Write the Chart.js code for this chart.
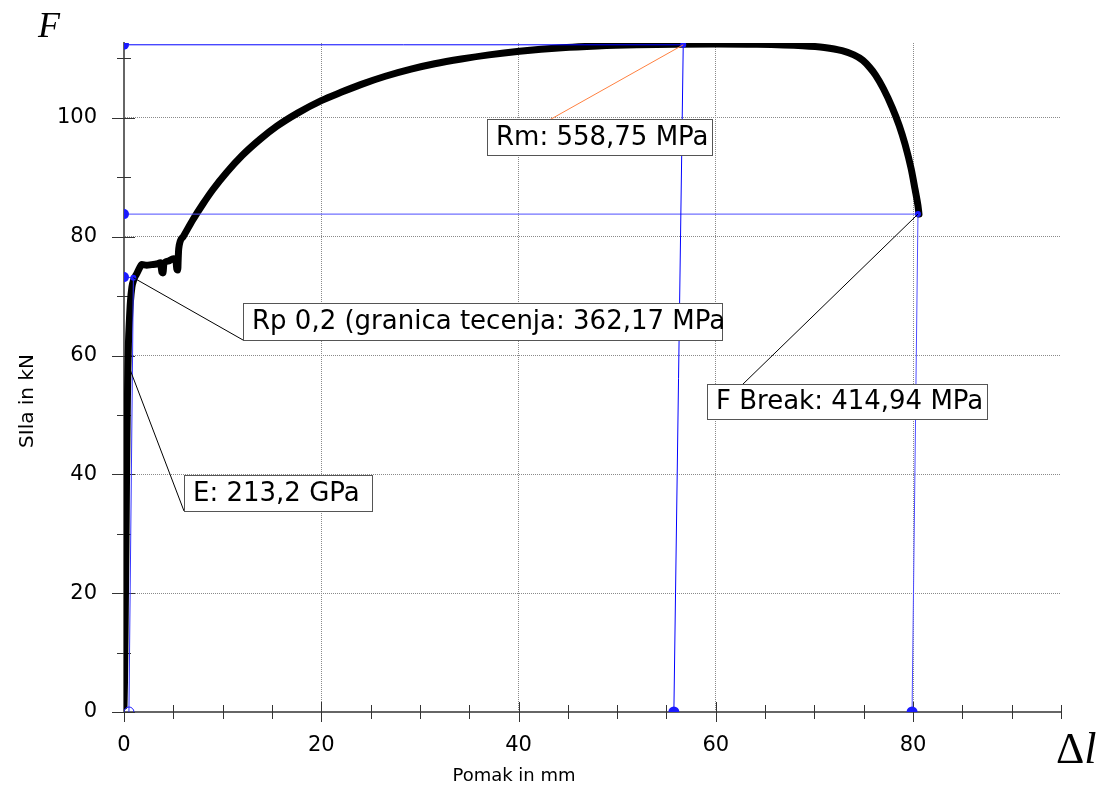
<!DOCTYPE html>
<html>
<head>
<meta charset="utf-8">
<script src="https://cdn.jsdelivr.net/npm/chart.js@4.4.1/dist/chart.umd.min.js"></script>
<style>
  html, body { margin: 0; padding: 0; background: #fff; }
  canvas { display: block; }
</style>
</head>
<body>
<canvas id="chart" width="1099" height="790"></canvas>
<script>
// tensile test curve: elongation (mm) vs force (kN)
const pomak = [0, 0.05, 0.1, 0.15, 0.2, 0.25, 0.3, 0.35, 0.4, 0.45, 0.55, 0.65, 0.8, 1.0, 1.3, 1.6, 1.8,
  2.3, 2.8, 3.3, 3.7, 3.85, 3.95, 4.05, 4.5, 5.0, 5.25, 5.35, 5.45, 5.5, 5.55, 6.0, 7.0, 8.0, 9.0,
  10.4, 12.0, 13.8, 15.5, 17.6, 20.0, 22.0, 24.0, 26.5, 29.1, 31.5, 34.2, 37.0, 40.1, 44.4, 48.0,
  52.0, 56.0, 60.0, 64.0, 68.8, 71.0, 72.8, 74.0, 74.9, 75.6, 76.2, 77.0, 77.9, 78.6, 79.2, 79.8,
  80.2, 80.5, 80.6];
const sila = [1, 5, 12, 20, 28, 38, 46, 53, 58, 62, 66, 69, 71.5, 72.8, 73.8, 74.8, 75.3,
  75.2, 75.3, 75.4, 75.6, 74.0, 73.9, 75.5, 75.9, 76.3, 76.2, 74.6, 74.4, 76.5, 78.0, 80.0, 82.9, 85.5, 87.9,
  90.8, 93.7, 96.4, 98.6, 100.8, 102.9, 104.3, 105.6, 107.0, 108.2, 109.1, 109.9, 110.6, 111.2, 111.8, 112.1,
  112.3, 112.4, 112.45, 112.4, 112.15, 111.85, 111.3, 110.6, 109.7, 108.5, 107.2, 104.9, 101.7, 98.7, 95.5, 91.5,
  88.0, 85.2, 83.8];

// marker lines (y-axis point -> curve point -> x-axis point)
const rmX = [0, 56.7, 55.75];
const rmY = [112.3, 112.3, 0];
const breakX = [0, 80.5, 79.9];
const breakY = [83.8, 83.8, 0];
const rpX = [0, 0.95, 0.5];
const rpY = [73.2, 73.1, 0];

const xTicks = [0, 5, 10, 15, 20, 25, 30, 35, 40, 45, 50, 55, 60, 65, 70, 75, 80, 85, 90, 95];
const yTicks = [0, 10, 20, 30, 40, 50, 60, 70, 80, 90, 100, 110];

// annotation labels: text, anchor in data units, box in px
const labels = [
  { text: 'Rm: 558,75 MPa', ax: 56.7, ay: 112.3, box: [487, 119, 225, 36], line: '#ff8040' },
  { text: 'Rp 0,2 (granica tecenja: 362,17 MPa', ax: 0.95, ay: 73.1, box: [243, 303, 479, 37], line: '#000' },
  { text: 'E: 213,2 GPa', ax: 0.3, ay: 59, box: [184, 475, 188, 36], line: '#000' },
  { text: 'F Break: 414,94 MPa', ax: 80.5, ay: 83.8, box: [707, 384, 280, 35], line: '#000' }
];

const pts = (xs, ys) => xs.map((v, i) => ({ x: v, y: ys[i] }));
const isMajor = v => v % 20 === 0;

const extras = {
  id: 'extras',
  beforeDatasetsDraw(chart) {
    const { ctx, chartArea: a, scales: { x, y } } = chart;
    ctx.save();
    ctx.strokeStyle = '#333';
    ctx.lineWidth = 1;
    x.ticks.forEach(t => {
      const px = Math.round(x.getPixelForValue(t.value)) + 0.5;
      ctx.beginPath();
      ctx.moveTo(px, a.bottom - (isMajor(t.value) ? 10 : 7));
      ctx.lineTo(px, a.bottom + (isMajor(t.value) ? 10 : 7));
      ctx.stroke();
    });
    y.ticks.forEach(t => {
      const py = Math.round(y.getPixelForValue(t.value)) + 0.5;
      ctx.beginPath();
      ctx.moveTo(a.left - (isMajor(t.value) ? 12 : 7), py);
      ctx.lineTo(a.left + (isMajor(t.value) ? 11 : 7), py);
      ctx.stroke();
    });
    ctx.restore();
  },
  afterDatasetsDraw(chart) {
    const { ctx, scales: { x, y } } = chart;
    ctx.save();
    labels.forEach(l => {
      const [bx, by, bw, bh] = l.box;
      ctx.strokeStyle = l.line;
      ctx.lineWidth = 1;
      ctx.beginPath();
      ctx.moveTo(x.getPixelForValue(l.ax), y.getPixelForValue(l.ay));
      ctx.lineTo(bx, by + bh);
      ctx.stroke();
      ctx.fillStyle = '#fff';
      ctx.fillRect(bx, by, bw, bh);
      ctx.strokeStyle = '#555';
      ctx.strokeRect(bx + 0.5, by + 0.5, bw, bh);
      ctx.fillStyle = '#000';
      ctx.font = '26px "DejaVu Sans"';
      ctx.textBaseline = 'middle';
      ctx.textAlign = 'left';
      ctx.fillText(l.text, bx + 9, by + bh / 2 + 1);
    });
    ctx.restore();
  },
  afterDraw(chart) {
    const { ctx } = chart;
    ctx.save();
    ctx.fillStyle = '#000';
    ctx.textAlign = 'center';
    ctx.textBaseline = 'middle';
    ctx.font = '18px "DejaVu Sans"';
    ctx.fillText('Pomak in mm', 514, 776);
    ctx.font = '20px "DejaVu Sans"';
    ctx.translate(28, 401);
    ctx.rotate(-Math.PI / 2);
    ctx.fillText('SIla in kN', 0, 0);
    ctx.restore();

    ctx.save();
    ctx.fillStyle = '#000';
    ctx.textBaseline = 'alphabetic';
    ctx.font = 'italic 36px "Liberation Serif"';
    ctx.fillText('F', 38, 37);
    ctx.font = '44px "Liberation Serif"';
    ctx.fillText('\u0394', 1056, 763);
    const w = ctx.measureText('\u0394').width;
    ctx.font = 'italic 44px "Liberation Serif"';
    ctx.fillText('l', 1056 + w, 763);
    ctx.restore();
  }
};

new Chart(document.getElementById('chart'), {
  type: 'scatter',
  data: {
    datasets: [
      {
        data: pts(rmX, rmY), showLine: true, borderColor: '#0000ff', borderWidth: 1,
        pointRadius: [5, 3, 5.5], pointBackgroundColor: '#1a1aff', pointBorderWidth: 0,
        clip: 0, order: 0
      },
      {
        data: pts(breakX, breakY), showLine: true, borderColor: '#4d4dff', borderWidth: 1,
        pointRadius: [5, 3, 5.5], pointBackgroundColor: '#1a1aff', pointBorderWidth: 0,
        clip: 0, order: 0
      },
      {
        data: pts(rpX, rpY), showLine: true, borderColor: '#3333ff', borderWidth: 1,
        pointRadius: [5, 3, 5], pointBackgroundColor: ['#1a1aff', '#1a1aff', 'rgba(0,0,0,0)'],
        pointBorderColor: '#1a1aff', pointBorderWidth: [0, 0, 1],
        clip: 0, order: 0
      },
      {
        data: pts(pomak, sila), showLine: true, borderColor: '#000', borderWidth: 7,
        borderJoinStyle: 'round', borderCapStyle: 'round',
        pointRadius: 0, cubicInterpolationMode: 'monotone', order: 1
      }
    ]
  },
  options: {
    responsive: false,
    devicePixelRatio: 1,
    animation: false,
    events: [],
    layout: { padding: { left: 0, top: 43, right: 38, bottom: 0 } },
    plugins: { legend: { display: false }, tooltip: { enabled: false } },
    scales: {
      x: {
        type: 'linear', min: 0, max: 95,
        afterFit: s => { s.height = 78; },
        afterBuildTicks: s => { s.ticks = xTicks.map(v => ({ value: v })); },
        grid: {
          drawTicks: false,
          color: c => (c.tick && isMajor(c.tick.value) && c.tick.value !== 0) ? '#8a8a8a' : 'rgba(0,0,0,0)'
        },
        border: { color: '#666', width: 2, dash: [1, 1] },
        ticks: {
          padding: 21, color: '#000', font: { family: 'DejaVu Sans', size: 21 },
          autoSkip: false, maxRotation: 0,
          callback: v => isMajor(v) ? v : ''
        }
      },
      y: {
        type: 'linear', min: 0, max: 112.6,
        afterFit: s => { s.width = 124; },
        afterBuildTicks: s => { s.ticks = yTicks.map(v => ({ value: v })); },
        grid: {
          drawTicks: false,
          color: c => (c.tick && isMajor(c.tick.value) && c.tick.value !== 0) ? '#8a8a8a' : 'rgba(0,0,0,0)'
        },
        border: { color: '#666', width: 2, dash: [1, 1] },
        ticks: {
          padding: 27, color: '#000', font: { family: 'DejaVu Sans', size: 21 },
          autoSkip: false,
          callback: v => isMajor(v) ? v : ''
        }
      }
    }
  },
  plugins: [extras]
});
</script>
</body>
</html>
